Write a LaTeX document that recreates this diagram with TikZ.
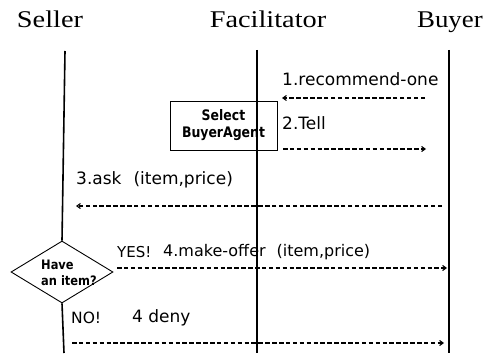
\documentclass[tikz,border=0pt]{standalone}
\usepackage{fontspec}
\setmainfont{Liberation Serif}
\setsansfont{DejaVu Sans}
\usetikzlibrary{arrows.meta,shapes.geometric}
\begin{document}
\begin{tikzpicture}[x=1pt,y=-1pt,
  title/.style={font=\fontsize{24}{24}\selectfont, inner sep=0pt, anchor=base},
  lbl/.style={font=\sffamily\fontsize{17}{18}\selectfont, anchor=west, inner sep=0pt},
  boldlbl/.style={font=\sffamily\bfseries\fontsize{14.5}{17}\selectfont, inner sep=0pt},
  life/.style={line width=1.6pt},
  msg/.style={line width=1.1pt, dash pattern=on 4.5pt off 2.4pt, -{Straight Barb[length=3.5pt,width=5pt]}},
]
\useasboundingbox (0,0) rectangle (484,353);
% titles
\node[title] (seller) at (50,28) {\scalebox{1.18}[1]{Seller}};
\node[title] (facil) at (268,28) {\scalebox{1.18}[1]{Facilitator}};
\node[title, anchor=base east] (buyer) at (483,28) {\scalebox{1.12}[1]{Buyer}};
% select box
\node[draw, line width=0.8pt, minimum width=107pt, minimum height=49pt, inner sep=0pt, align=center, boldlbl] (box) at (223.5,125.5) {\scalebox{0.86}[1]{Select}\\[0pt]\scalebox{0.86}[1]{BuyerAgent}};
% diamond
\node[draw, diamond, line width=0.9pt, minimum width=102pt, minimum height=62pt, inner sep=0pt] (dia) at (62,272) {};
\node[boldlbl, font=\sffamily\bfseries\fontsize{13}{16}\selectfont, align=left, anchor=west] (diatext) at (41,273) {\scalebox{0.88}[1]{Have}\\\scalebox{0.88}[1]{an item?}};
% lifeline coordinates
\coordinate (sTop) at (65,51);
\coordinate (sBot) at (64,353);
\coordinate (fTop) at (257,50);
\coordinate (fBot) at (257,353);
\coordinate (bTop) at (449,50);
\coordinate (bBot) at (449,353);
\draw[life] (sTop) -- (dia.north);
\draw[life] (dia.south) -- (sBot);
\draw[life] (fTop) -- (fBot);
\draw[life] (bTop) -- (bBot);
% messages
\node[lbl] (m1) at (282,79) {1.recommend-one};
\coordinate (m1s) at (425,98);
\coordinate (m1e) at (282,98);
\draw[msg] (m1s) -- (m1e);
\node[lbl] (m2) at (282,123) {2.Tell};
\coordinate (m2s) at (283,149);
\coordinate (m2e) at (426,149);
\draw[msg] (m2s) -- (m2e);
\node[lbl] (m3) at (76,180) {3.ask\hspace{12pt}(item,price)};
\coordinate (m3s) at (442,206);
\coordinate (m3e) at (76,206);
\draw[msg] (m3s) -- (m3e);
\node[lbl, font=\sffamily\fontsize{15}{16}\selectfont] (yes) at (117,252) {YES!};
\node[lbl, font=\sffamily\fontsize{16}{16}\selectfont] (m4) at (163,252) {4.make-offer\hspace{11pt}(item,price)};
\coordinate (m4s) at (117,268);
\coordinate (m4e) at (447,268);
\draw[msg] (m4s) -- (m4e);
\node[lbl, font=\sffamily\fontsize{15.5}{16}\selectfont] (no) at (71,318) {NO!};
\node[lbl] (m5) at (132,318) {4 deny};
\coordinate (m5s) at (72,343);
\coordinate (m5e) at (444,343);
\draw[msg] (m5s) -- (m5e);
\end{tikzpicture}
\end{document}
